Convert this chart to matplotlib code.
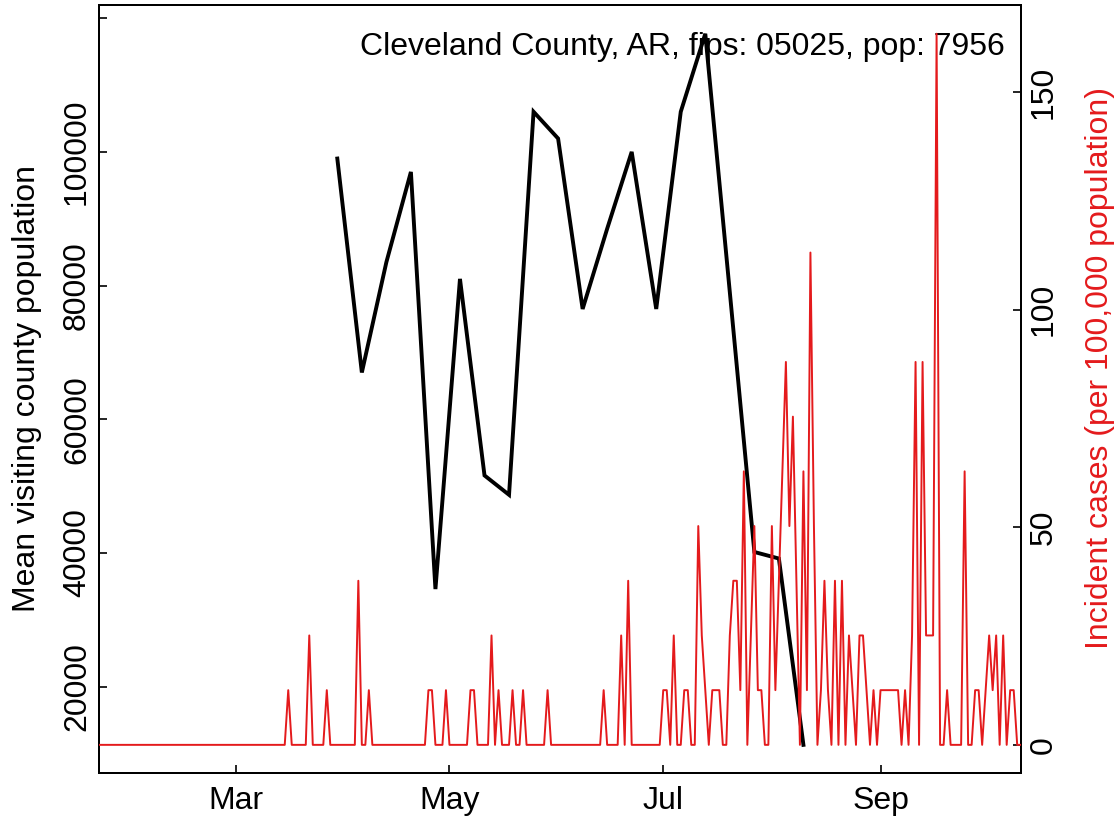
import numpy as np
import pandas as pd
import matplotlib
matplotlib.use("Agg")
import matplotlib.pyplot as plt
import matplotlib.dates as mdates
from matplotlib.ticker import FixedLocator, FuncFormatter

plt.rcParams['font.family'] = ['Liberation Sans', 'DejaVu Sans']

# ---------------- data ----------------
title_text = "Cleveland County, AR, fips: 05025, pop: 7956"
population = 7956

case_start = "2020-01-22"
# daily incident case counts (Jan 22 .. Oct 11, 2020)
daily_cases = (
    [0] * 54 +
    [1, 0, 0, 0, 0, 0, 2, 0, 0, 0, 0, 1, 0, 0, 0, 0, 0, 0, 0, 0,  # d54..73
     3, 0, 0, 1, 0, 0, 0, 0, 0, 0, 0, 0, 0, 0, 0, 0, 0, 0, 0, 0,  # d74..93
     1, 1, 0, 0, 0, 1, 0, 0, 0, 0, 0, 0, 1, 1, 0, 0, 0, 0, 2, 0,  # d94..113
     1, 0, 0, 0, 1, 0, 0, 1, 0, 0, 0, 0, 0, 0, 1, 0, 0, 0, 0, 0,  # d114..133
     0, 0, 0, 0, 0, 0, 0, 0, 0, 0, 1, 0, 0, 0, 0, 2, 0, 3, 0, 0,  # d134..153
     0, 0, 0, 0, 0, 0, 0, 1, 1, 0, 2, 0, 0, 1, 1, 0, 0, 4, 2, 1,  # d154..173
     0, 1, 1, 1, 0, 0, 2, 3, 3, 1, 5, 0, 2, 4, 1, 1, 0, 0, 4, 1,  # d174..193
     3, 5, 7, 4, 6, 3, 0, 5, 1, 9, 4, 0, 1, 3, 1, 0, 3, 0, 3, 0,  # d194..213
     2, 1, 0, 2, 2, 1, 0, 1, 0, 1, 1, 1, 1, 1, 1, 0, 1, 0, 2, 7,  # d214..233
     0, 7, 2, 2, 2, 13, 0, 0, 1, 0, 0, 0, 0, 5, 0, 0, 1, 1, 0, 1,  # d234..253
     2, 1, 2, 0, 2, 0, 1, 1, 0, 0]                                 # d254..263
)

visit_start = "2020-03-30"
# weekly mean visiting county population
mean_visiting = [99000, 67000, 83500, 97000, 34600, 81000, 51600, 48700,
                 106000, 102000, 76500, 88500, 100000, 76500, 106000, 117670,
                 79000, 40150, 39170, 11300]

left_ticks = [20000, 40000, 60000, 80000, 100000, 120000]
right_ticks = [0, 50, 100, 150]
month_ticks = [3, 5, 7, 9]

# ---------------- figure ----------------
W, H = 1119, 817
fig = plt.figure(figsize=(W / 100, H / 100), dpi=100)
L, R, T, B = 99, 1020.7, 5.3, 773.3
ax = fig.add_axes([L / W, 1 - B / H, (R - L) / W, (B - T) / H])
ax2 = ax.twinx()

case_dates = pd.date_range(case_start, periods=len(daily_cases), freq="D")
visit_dates = pd.date_range(visit_start, periods=len(mean_visiting), freq="7D")
rate = np.array(daily_cases, dtype=float) / population * 100000

red = "#E41A1C"
fs = 23

ax.plot(visit_dates, mean_visiting, color="black", lw=2.8, solid_joinstyle="miter", zorder=3)
ax2.plot(case_dates, rate, color=red, lw=1.4, zorder=3)

ax.set_xlim(case_dates[0], case_dates[-1])


def padded(vals):
    lo, hi = float(np.min(vals)), float(np.max(vals))
    p = 0.04 * (hi - lo)
    return lo - p, hi + p


ax.set_ylim(*padded(mean_visiting))
ax2.set_ylim(*padded(rate))

ax.xaxis.set_major_locator(mdates.MonthLocator(bymonth=month_ticks))
ax.xaxis.set_major_formatter(mdates.DateFormatter("%b"))
ax.yaxis.set_major_locator(FixedLocator(left_ticks))
ax.yaxis.set_major_formatter(FuncFormatter(lambda v, p: "" if v > 110000 else f"{int(v)}"))
ax2.yaxis.set_major_locator(FixedLocator(right_ticks))

for a in (ax, ax2):
    for s in a.spines.values():
        s.set_linewidth(1.4)
ax.tick_params(axis="both", direction="in", length=6, width=1.2, labelsize=fs)
ax.tick_params(axis="x", pad=9)
ax.tick_params(axis="y", pad=5)
ax2.tick_params(axis="y", direction="in", length=6, width=1.2, labelsize=fs, pad=6)
for lab in ax.get_yticklabels():
    lab.set_rotation(90)
    lab.set_va("center")
for lab in ax2.get_yticklabels():
    lab.set_rotation(90)
    lab.set_va("center")

ax.text(0.983, 0.9457, title_text, transform=ax.transAxes, ha="right", va="center",
        fontsize=fs, zorder=5)

fig.text(27 / W, 1 - 389 / H, "Mean visiting county population", rotation=90,
         ha="center", va="center", fontsize=fs)
fig.text(1100 / W, 1 - 368 / H, "Incident cases (per 100,000 population)", rotation=90,
         ha="center", va="center", fontsize=fs, color=red)

fig.savefig("out.png", dpi=100)
